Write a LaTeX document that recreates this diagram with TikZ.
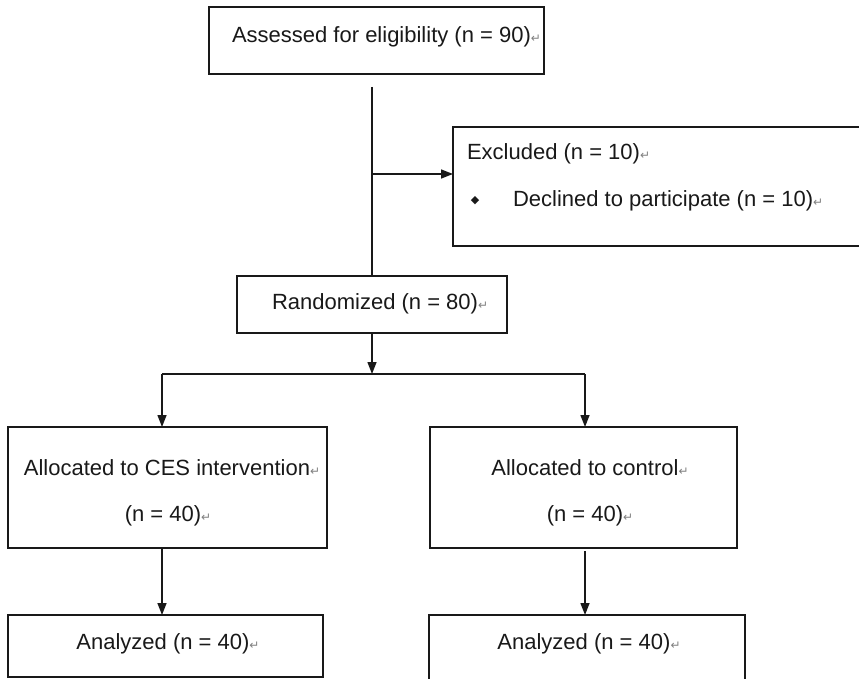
\documentclass[tikz,border=0pt]{standalone}
\usepackage{fontspec}
\setmainfont{Liberation Sans}
\newfontfamily\dejavu{DejaVu Sans}
\usetikzlibrary{arrows.meta}
\newcommand{\retmark}{{\dejavu\fontsize{12}{12}\selectfont\color{gray}↵}}
\begin{document}
\begin{tikzpicture}[x=1pt,y=-1pt,
  box/.style={draw=black!90, line width=1.5pt, inner sep=0pt, outer sep=0pt},
  txt/.style={inner sep=0pt, outer sep=0pt, font=\fontsize{22}{26}\selectfont, text=black!90},
  conn/.style={draw=black!90, line width=1.4pt},
  arr/.style={conn, -{Triangle[length=12pt,width=9pt]}}]
\useasboundingbox[fill=white] (0,0) rectangle (859,679);

% boxes
\node[box, minimum width=335pt, minimum height=67pt] (assess) at (376.5,40.5) {};
\node[box, minimum width=417pt, minimum height=119pt] (excl) at (661.5,186.5) {};
\node[box, minimum width=270pt, minimum height=57pt] (rand) at (372,304.5) {};
\node[box, minimum width=319pt, minimum height=121pt] (allocL) at (167.5,487.5) {};
\node[box, minimum width=307pt, minimum height=121pt] (allocR) at (583.5,487.5) {};
\node[box, minimum width=315pt, minimum height=62pt] (anaL) at (165.5,646) {};
\node[box, minimum width=316pt, minimum height=75pt] (anaR) at (587,652.5) {};

% texts
\node[txt, anchor=west] (assessT) at (232,37) {Assessed for eligibility (n = 90)\retmark};
\node[txt, anchor=west] (exclT) at (467,154) {Excluded (n = 10)\retmark};
\node[txt, anchor=center] (bul) at (475,201) {{\dejavu\fontsize{11}{11}\selectfont ◆}};
\node[txt, anchor=west] (declT) at (513,201) {Declined to participate (n = 10)\retmark};
\node[txt, anchor=west] (randT) at (272,304) {Randomized (n = 80)\retmark};
\node[txt] (allocLT1) at (172,468) {Allocated to CES intervention\retmark};
\node[txt] (allocLT2) at (168,516) {(n = 40)\retmark};
\node[txt] (allocRT1) at (590,468) {Allocated to control\retmark};
\node[txt] (allocRT2) at (590,516) {(n = 40)\retmark};
\node[txt] (anaLT) at (168,644) {Analyzed (n = 40)\retmark};
\node[txt] (anaRT) at (589,644) {Analyzed (n = 40)\retmark};

% connectors
\coordinate (t0) at (372,87);
\coordinate (j1) at (372,174);
\draw[conn] (t0) -- (t0 |- rand.north);
\draw[arr] (j1) -- (j1 -| excl.west);
\coordinate (sp) at (372,374);
\coordinate (spL) at (162,374);
\coordinate (spR) at (585,374);
\draw[arr] (rand.south) -- (sp);
\draw[conn] (spL) -- (spR);
\draw[arr] (spL) -- (spL |- allocL.north);
\draw[arr] (spR) -- (spR |- allocR.north);
\draw[arr] (spL |- allocL.south) -- (spL |- anaL.north);
\coordinate (r2) at (585,551);
\draw[arr] (r2) -- (r2 |- anaR.north);
\end{tikzpicture}
\end{document}
